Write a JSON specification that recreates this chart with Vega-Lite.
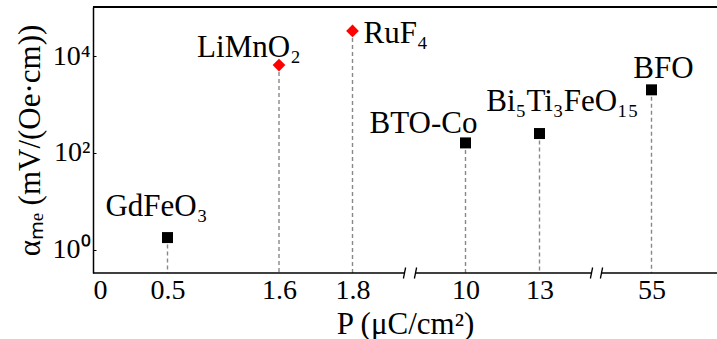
{
  "$schema": "https://vega.github.io/schema/vega-lite/v6.json",
  "width": 624,
  "height": 266,
  "autosize": {"type": "none"},
  "padding": {"left": 93, "top": 7, "right": 0, "bottom": 66},
  "background": "white",
  "config": {
    "view": {"stroke": null},
    "font": "Liberation Serif",
    "text": {"font": "Liberation Serif"},
    "axis": {
      "labelFont": "Liberation Serif",
      "titleFont": "Liberation Serif",
      "labelFontSize": 28,
      "titleFontSize": 31,
      "labelColor": "black",
      "titleColor": "black",
      "titleFontWeight": "normal",
      "domainColor": "black",
      "tickColor": "black",
      "grid": false
    }
  },
  "datasets": {
    "materials": [
      {"name": "GdFeO₃", "P": 0.5, "alpha": 1.77, "group": "reported"},
      {"name": "LiMnO₂", "P": 1.6, "alpha": 6500, "group": "predicted"},
      {"name": "RuF₄", "P": 1.8, "alpha": 33000, "group": "predicted"},
      {"name": "BTO-Co", "P": 10, "alpha": 160, "group": "reported"},
      {"name": "Bi₅Ti₃FeO₁₅", "P": 13, "alpha": 250, "group": "reported"},
      {"name": "BFO", "P": 55, "alpha": 2000, "group": "reported"}
    ],
    "axisSegments": [
      {"from": 0, "to": 4},
      {"from": 6, "to": 25},
      {"from": 35, "to": 70}
    ],
    "breakEdges": [
      {"edge": 4}, {"edge": 6}, {"edge": 25}, {"edge": 35}
    ]
  },
  "data": {"name": "materials"},
  "encoding": {
    "x": {
      "field": "P",
      "type": "quantitative",
      "scale": {
        "type": "linear",
        "domain": [0, 0.5, 1.6, 1.8, 4, 6, 10, 13, 25, 35, 55, 70],
        "range": [0, 74.5, 186, 259.5, 311.5, 322.5, 372.5, 446.5, 498.5, 508.5, 558.5, 624],
        "nice": false,
        "zero": false
      },
      "axis": {
        "values": [0, 0.5, 1.6, 1.8, 10, 13, 55],
        "labelExpr": "'' + datum.value",
        "domain": false,
        "ticks": false,
        "labelPadding": 3,
        "title": "P (μC/cm²)",
        "titlePadding": 5
      }
    }
  },
  "layer": [
    {
      "mark": {"type": "rule", "color": "#888888", "strokeDash": [4, 3], "strokeWidth": 1.4},
      "encoding": {
        "y": {
          "field": "alpha",
          "type": "quantitative",
          "scale": {"type": "log", "domain": [0.328, 103000], "nice": false},
          "axis": {
            "values": [1, 100, 10000],
            "labelExpr": "datum.value == 1 ? '10⁰' : datum.value == 100 ? '10²' : '10⁴'",
            "domainWidth": 1.5,
            "tickSize": -3,
            "labelPadding": 6,
            "title": "αₘₑ (mV/(Oe·cm))",
            "titlePadding": 6
          }
        },
        "y2": {"datum": 0.328}
      }
    },
    {
      "data": {"name": "axisSegments"},
      "mark": {"type": "rule", "color": "black", "strokeWidth": 1.5},
      "encoding": {
        "x": {"field": "from", "type": "quantitative"},
        "x2": {"field": "to"},
        "y": {"datum": 0.328, "type": "quantitative"}
      }
    },
    {
      "data": {"name": "breakEdges"},
      "mark": {"type": "point", "shape": "M-0.2,1L0.2,-1", "size": 121, "filled": false, "stroke": "black", "strokeWidth": 1.3, "opacity": 1},
      "encoding": {
        "x": {"field": "edge", "type": "quantitative"},
        "y": {"datum": 0.328, "type": "quantitative"}
      }
    },
    {
      "mark": {"type": "rule", "color": "black", "strokeWidth": 1.5},
      "encoding": {
        "x": {"datum": 0, "type": "quantitative"},
        "x2": {"datum": 70},
        "y": {"datum": 103000, "type": "quantitative"}
      }
    },
    {
      "mark": {"type": "point", "filled": true, "opacity": 1},
      "encoding": {
        "y": {"field": "alpha", "type": "quantitative"},
        "shape": {"field": "group", "type": "nominal", "scale": {"domain": ["reported", "predicted"], "range": ["square", "diamond"]}, "legend": null},
        "color": {"field": "group", "type": "nominal", "scale": {"domain": ["reported", "predicted"], "range": ["black", "#ff0000"]}, "legend": null},
        "size": {"field": "group", "type": "nominal", "scale": {"domain": ["reported", "predicted"], "range": [121, 161]}, "legend": null}
      }
    },
    {
      "transform": [{"filter": "datum.name == 'GdFeO₃'"}],
      "mark": {"type": "text", "fontSize": 31, "align": "center", "baseline": "alphabetic", "dx": -11, "dy": -22},
      "encoding": {"y": {"field": "alpha", "type": "quantitative"}, "text": {"field": "name"}}
    },
    {
      "transform": [{"filter": "datum.name == 'LiMnO₂'"}],
      "mark": {"type": "text", "fontSize": 31, "align": "center", "baseline": "alphabetic", "dx": -30, "dy": -8},
      "encoding": {"y": {"field": "alpha", "type": "quantitative"}, "text": {"field": "name"}}
    },
    {
      "transform": [{"filter": "datum.name == 'RuF₄'"}],
      "mark": {"type": "text", "fontSize": 31, "align": "left", "baseline": "alphabetic", "dx": 11, "dy": 12},
      "encoding": {"y": {"field": "alpha", "type": "quantitative"}, "text": {"field": "name"}}
    },
    {
      "transform": [{"filter": "datum.name == 'BTO-Co'"}],
      "mark": {"type": "text", "fontSize": 31, "align": "center", "baseline": "alphabetic", "dx": -42, "dy": -10},
      "encoding": {"y": {"field": "alpha", "type": "quantitative"}, "text": {"field": "name"}}
    },
    {
      "transform": [{"filter": "datum.name == 'Bi₅Ti₃FeO₁₅'"}],
      "mark": {"type": "text", "fontSize": 31, "align": "center", "baseline": "alphabetic", "dx": 23, "dy": -23},
      "encoding": {"y": {"field": "alpha", "type": "quantitative"}, "text": {"field": "name"}}
    },
    {
      "transform": [{"filter": "datum.name == 'BFO'"}],
      "mark": {"type": "text", "fontSize": 31, "align": "center", "baseline": "alphabetic", "dx": 12, "dy": -12},
      "encoding": {"y": {"field": "alpha", "type": "quantitative"}, "text": {"field": "name"}}
    }
  ]
}
